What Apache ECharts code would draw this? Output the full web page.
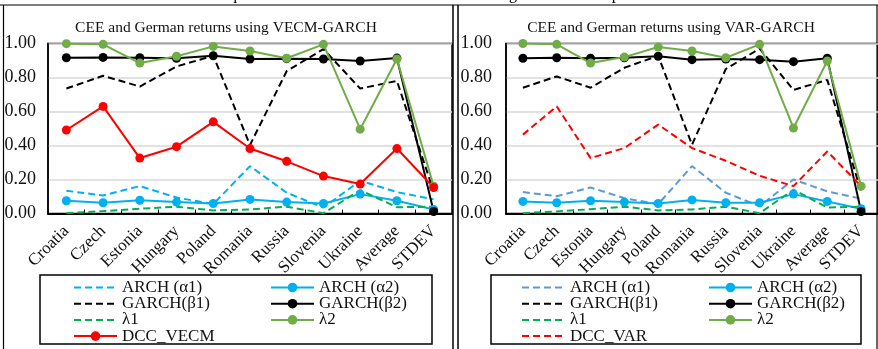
<!DOCTYPE html>
<html><head><meta charset="utf-8">
<script src="https://cdn.jsdelivr.net/npm/echarts@6/dist/echarts.min.js"></script>
<style>html,body{margin:0;padding:0;background:#fff}#c{width:878px;height:349px}</style>
</head><body><div id="c"></div>
<script>
const categories = ['Croatia','Czech','Estonia','Hungary','Poland','Romania','Russia','Slovenia','Ukraine','Average','STDEV'];
const yTicks = [0, 0.2, 0.4, 0.6, 0.8, 1.0];

// Left panel: VECM-GARCH
const vecmArch1  = [0.134,0.106,0.161,0.094,0.055,0.279,0.122,0.035,0.193,0.126,0.083];
const vecmArch2  = [0.075,0.063,0.078,0.067,0.059,0.083,0.067,0.059,0.114,0.075,0.024];
const vecmGarch1 = [0.735,0.810,0.747,0.865,0.928,0.403,0.838,0.967,0.735,0.780,0.130];
const vecmGarch2 = [0.916,0.918,0.916,0.913,0.928,0.909,0.911,0.909,0.897,0.914,0.012];
const vecmLam1   = [0.002,0.014,0.028,0.040,0.018,0.024,0.040,0.002,0.137,0.037,0.040];
const vecmLam2   = [0.999,0.995,0.885,0.925,0.983,0.956,0.913,0.995,0.496,0.909,0.161];
const vecmDcc    = [0.491,0.630,0.326,0.393,0.539,0.382,0.307,0.220,0.173,0.382,0.153];

// Right panel: VAR-GARCH
const varArch1  = [0.126,0.102,0.153,0.090,0.055,0.279,0.122,0.043,0.200,0.130,0.087];
const varArch2  = [0.071,0.063,0.075,0.067,0.059,0.080,0.063,0.063,0.114,0.071,0.028];
const varGarch1 = [0.740,0.806,0.740,0.857,0.928,0.405,0.850,0.970,0.727,0.786,0.130];
const varGarch2 = [0.913,0.916,0.913,0.916,0.925,0.905,0.909,0.905,0.893,0.913,0.012];
const varLam1   = [0.002,0.012,0.025,0.040,0.018,0.024,0.040,0.002,0.140,0.035,0.040];
const varLam2   = [1.000,0.995,0.885,0.920,0.979,0.956,0.916,0.995,0.503,0.897,0.161];
const varDcc    = [0.464,0.630,0.326,0.385,0.523,0.385,0.310,0.222,0.161,0.365,0.161];

const SERIF = '"Liberation Serif", serif';
const TXT = '#111';
const DASH = [7,4];

function mk(name, data, color, dashed, marker, gi){
  return {
    type:'line', name, data, xAxisIndex:gi, yAxisIndex:gi,
    symbol: marker ? 'circle' : 'none', symbolSize: 9, showSymbol: marker,
    lineStyle:{color, width:2, type: dashed ? DASH : 'solid'},
    itemStyle:{color, borderWidth:0},
    animation:false, z: 2
  };
}
const zw = '\u200b';
const L = {a1:'ARCH (α1)', a2:'ARCH (α2)', b1:'GARCH(β1)', b2:'GARCH(β2)', l1:'λ1', l2:'λ2'};
const series = [
  mk(L.a1, vecmArch1, '#00b0f0', true, false, 0),
  mk(L.a2, vecmArch2, '#00b0f0', false, true, 0),
  mk(L.b1, vecmGarch1, '#000', true, false, 0),
  mk(L.b2, vecmGarch2, '#000', false, true, 0),
  mk(L.l1, vecmLam1, '#00b050', true, false, 0),
  mk(L.l2, vecmLam2, '#70ad47', false, true, 0),
  mk('DCC_VECM', vecmDcc, '#ff0000', false, true, 0),
  mk(L.a1+zw, varArch1, '#5b9bd5', true, false, 1),
  mk(L.a2+zw, varArch2, '#00b0f0', false, true, 1),
  mk(L.b1+zw, varGarch1, '#000', true, false, 1),
  mk(L.b2+zw, varGarch2, '#000', false, true, 1),
  mk(L.l1+zw, varLam1, '#00b050', true, false, 1),
  mk(L.l2+zw, varLam2, '#70ad47', false, true, 1),
  mk('DCC_VAR', varDcc, '#ff0000', true, false, 1)
];

function xAxis(gi){
  return {type:'category', gridIndex:gi, data:categories, boundaryGap:true,
    axisLine:{lineStyle:{color:'#000', width:2}},
    axisTick:{show:true, inside:true, length:4, lineStyle:{color:'#000'}},
    axisLabel:{rotate:45, margin:15, fontFamily:SERIF, fontSize:17, color:TXT, interval:0},
    splitLine:{show:false}};
}
function yAxis(gi, margin){
  return {type:'value', gridIndex:gi, min:yTicks[0], max:yTicks[yTicks.length-1], interval:0.2,
    axisLine:{show:true, lineStyle:{color:'#000', width:1.5}},
    axisTick:{show:false},
    axisLabel:{margin, fontFamily:SERIF, fontSize:18, color:TXT, formatter:v=>v.toFixed(2)},
    splitLine:{lineStyle:{color:'#d9d9d9', width:1.5}}};
}
const noSym = n => ({name:n, itemStyle:{opacity:0}});
function legend(left, top, names){
  return {orient:'vertical', left, top, padding:0, itemGap:-0.8, itemWidth:43, itemHeight:12,
    data:names, selectedMode:false,
    textStyle:{fontFamily:SERIF, fontSize:17, color:TXT, lineHeight:16}};
}
const line = (x1,y1,x2,y2,w)=>({type:'line', shape:{x1,y1,x2,y2}, style:{stroke:'#000', lineWidth:w||1}, silent:true});

const option = {
  animation:false,
  grid:[
    {left:48, top:43.5, width:404, height:170, show:true, borderColor:'#000', borderWidth:1.5, backgroundColor:'transparent'},
    {left:506, top:43.5, width:372, height:170, show:true, borderColor:'#000', borderWidth:1.5, backgroundColor:'transparent'}
  ],
  xAxis:[xAxis(0), xAxis(1)],
  yAxis:[yAxis(0,12), yAxis(1,14)],
  legend:[
    legend(73, 279, [noSym(L.a1), noSym(L.b1), noSym(L.l1), 'DCC_VECM']),
    legend(270, 279, [L.a2, L.b2, L.l2]),
    legend(521, 279, [noSym(L.a1+zw), noSym(L.b1+zw), noSym(L.l1+zw), noSym('DCC_VAR')]),
    legend(708, 279, [L.a2+zw, L.b2+zw, L.l2+zw])
  ],
  graphic:[
    {type:'text', left:5, top:-13, style:{text:'Panel A: Coefficients of variance equations for CEE and German returns during the non-crisis period', font:'16px '+SERIF, fill:'#000'}},
    line(0,5,878,5,1.2),
    line(3.5,5,3.5,349,1.2),
    line(453,5,453,349,1.5),
    line(458,5,458,349,1.5),
    line(877,5,877,349,1.2),
    {type:'text', x:226, y:28, style:{text:'CEE and German returns using VECM-GARCH', font:'15.5px '+SERIF, fill:TXT, textAlign:'center', textVerticalAlign:'middle'}},
    {type:'text', x:671, y:28, style:{text:'CEE and German returns using VAR-GARCH', font:'15.5px '+SERIF, fill:TXT, textAlign:'center', textVerticalAlign:'middle'}},
    {type:'rect', shape:{x:40, y:275, width:392, height:69}, style:{fill:'none', stroke:'#000', lineWidth:1.5}, z:-1},
    {type:'rect', shape:{x:491, y:275, width:370, height:69}, style:{fill:'none', stroke:'#000', lineWidth:1.5}, z:-1}
  ],
  series
};
const chart = echarts.init(document.getElementById('c'), null, {renderer:'canvas'});
chart.setOption(option);
</script></body></html>
